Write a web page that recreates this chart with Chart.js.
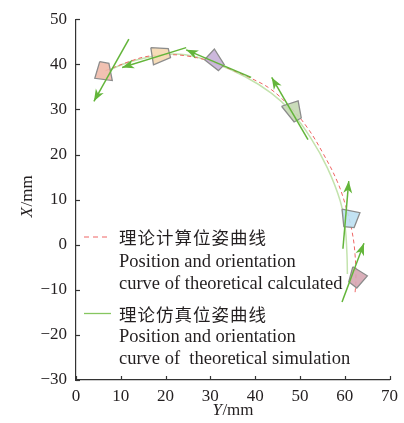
<!DOCTYPE html>
<html><head><meta charset="utf-8">
<script src="https://cdn.jsdelivr.net/npm/chart.js@4.4.0/dist/chart.umd.min.js"></script>
<style>html,body{margin:0;padding:0;background:#fff;}</style>
</head><body>
<canvas id="c" width="404" height="423"></canvas>
<script>
// ---- data (Y/mm horizontal, X/mm vertical) ----
const calcY = [6.6, 11.9, 15.6, 20.0, 24.4, 30.3, 34.7, 39.1, 43.6, 48.0, 51.7, 55.3, 58.3, 60.1, 61.6, 62.3, 62.5, 62.3];
const calcX = [38.6, 40.6, 41.7, 42.1, 41.9, 40.6, 38.8, 36.9, 34.4, 30.3, 25.9, 20.0, 14.1, 9.0, 3.1, -2.1, -8.0, -10.8];
const simY  = [7.5, 11.9, 19.3, 24.4, 30.3, 37.7, 43.6, 48.0, 52.4, 56.1, 59.0, 60.1, 60.5, 60.6];
const simX  = [38.8, 40.5, 42.1, 42.1, 40.5, 37.3, 33.6, 29.6, 23.7, 17.1, 9.7, 3.8, -2.1, -6.5];

// pose quadrilaterals: vertex Y values and X values
const pose1Y = [5.3, 7.35, 8.1, 4.2],    pose1X = [40.6, 40.2, 36.4, 36.9];
const pose2Y = [16.7, 20.6, 21.1, 17.3], pose2X = [43.7, 43.5, 41.5, 39.9];
const pose3Y = [28.7, 30.9, 33.1, 31.8], pose3X = [41.0, 43.4, 39.9, 38.6];
const pose4Y = [45.9, 49.6, 50.3, 48.7], pose4X = [30.7, 31.9, 28.1, 27.2];
const pose5Y = [59.4, 63.4, 62.1, 59.8], pose5X = [7.9, 7.1, 3.8, 4.0];
const pose6Y = [61.8, 65.05, 62.7, 60.9], pose6X = [-4.9, -6.9, -9.6, -8.2];

// orientation arrows: tail and head
const arrowTailY = [11.8, 24.6, 39.1, 51.8, 59.6, 59.4];
const arrowTailX = [45.6, 43.7, 37.1, 23.3, -0.9, -12.7];
const arrowHeadY = [4.0, 10.3, 24.6, 43.7, 60.9, 64.3];
const arrowHeadX = [31.8, 39.3, 43.2, 37.1, 14.1, 0.3];

// ticks and labels
const xTickValues = [0, 10, 20, 30, 40, 50, 60, 70];
const yTickValues = [-30, -20, -10, 0, 10, 20, 30, 40, 50];
const xAxisTitle = ['Y', '/mm'];
const yAxisTitle = ['X', '/mm'];
const legendCalcZh = '理论计算位姿曲线';
const legendCalcEn = ['Position and orientation', 'curve of theoretical calculated'];
const legendSimZh = '理论仿真位姿曲线';
const legendSimEn = ['Position and orientation', 'curve of  theoretical simulation'];

// ---- styles ----
const poseFills = ['rgba(239,186,170,0.9)', 'rgba(245,216,176,0.9)', 'rgba(198,176,216,0.9)',
                   'rgba(196,216,178,0.9)', 'rgba(188,224,242,0.9)', 'rgba(214,166,178,0.9)'];
const poseBorder = '#8c8c8c';
const arrowColor = '#63b53a';
const calcColor = '#ef6464';
const simColor = '#c3e3ad';
const textColor = '#231f20';
const serif = '"Liberation Serif", "DejaVu Serif", serif';

const zip = (ys, xs) => ys.map((v, i) => ({x: v, y: xs[i]}));
const closed = (ys, xs) => { const p = zip(ys, xs); p.push({...p[0]}); return p; };

const poses = [[pose1Y, pose1X], [pose2Y, pose2X], [pose3Y, pose3X], [pose4Y, pose4X], [pose5Y, pose5X], [pose6Y, pose6X]];

const datasets = [];
datasets.push({label: 'calc', data: zip(calcY, calcX), showLine: true, borderColor: calcColor, borderWidth: 1,
  borderDash: [4, 3], pointRadius: 0, tension: 0.4, fill: false, order: 3});
datasets.push({label: 'sim', data: zip(simY, simX), showLine: true, borderColor: simColor, borderWidth: 1.5,
  pointRadius: 0, tension: 0.4, fill: false, order: 4});
poses.forEach((p, i) => datasets.push({label: 'pose' + (i + 1), data: closed(p[0], p[1]), showLine: true,
  borderColor: poseBorder, borderWidth: 1.3, backgroundColor: poseFills[i], fill: 'shape', pointRadius: 0,
  tension: 0, order: 2}));
arrowTailY.forEach((v, i) => datasets.push({label: 'arrow' + (i + 1), isArrow: true,
  data: [{x: arrowTailY[i], y: arrowTailX[i]}, {x: arrowHeadY[i], y: arrowHeadX[i]}], showLine: true,
  borderColor: arrowColor, borderWidth: 1.5, pointRadius: 0, tension: 0, fill: false, order: 1}));

const fmt = v => String(v).replace('-', '\u2212');

const decor = {
  id: 'decor',
  afterDatasetsDraw(chart) {
    const ctx = chart.ctx;
    // arrowheads
    chart.data.datasets.forEach((ds, i) => {
      if (!ds.isArrow) return;
      const pts = chart.getDatasetMeta(i).data;
      const a = pts[0], b = pts[1];
      const ang = Math.atan2(b.y - a.y, b.x - a.x);
      const L = 12, W = 4.5;
      ctx.save();
      ctx.translate(b.x, b.y); ctx.rotate(ang);
      ctx.beginPath();
      ctx.moveTo(0, 0); ctx.lineTo(-L, -W); ctx.lineTo(-L * 0.72, 0); ctx.lineTo(-L, W); ctx.closePath();
      ctx.fillStyle = arrowColor; ctx.fill();
      ctx.restore();
    });
  },
  afterDraw(chart) {
    const ctx = chart.ctx, xs = chart.scales.x, ys = chart.scales.y, ca = chart.chartArea;
    ctx.save();
    ctx.strokeStyle = '#333'; ctx.lineWidth = 1.2;
    // inward ticks
    xTickValues.forEach(v => { const px = Math.round(xs.getPixelForValue(v)) + 0.5;
      ctx.beginPath(); ctx.moveTo(px, ca.bottom); ctx.lineTo(px, ca.bottom - 4); ctx.stroke(); });
    yTickValues.forEach(v => { const py = Math.round(ys.getPixelForValue(v)) + 0.5;
      ctx.beginPath(); ctx.moveTo(ca.left, py); ctx.lineTo(ca.left + 4, py); ctx.stroke(); });
    ctx.fillStyle = textColor;
    // axis titles (italic variable + upright unit)
    const drawTitle = (parts, cx, cy, rot) => {
      ctx.save(); ctx.translate(cx, cy); if (rot) ctx.rotate(rot);
      ctx.textBaseline = 'alphabetic'; ctx.textAlign = 'left';
      ctx.font = 'italic 17px ' + serif; const w1 = ctx.measureText(parts[0]).width;
      ctx.font = '17px ' + serif; const w2 = ctx.measureText(parts[1]).width;
      let x0 = -(w1 + w2) / 2;
      ctx.font = 'italic 17px ' + serif; ctx.fillText(parts[0], x0, 0);
      ctx.font = '17px ' + serif; ctx.fillText(parts[1], x0 + w1 + 0.5, 0);
      ctx.restore();
    };
    drawTitle(xAxisTitle, (ca.left + ca.right) / 2, 415, 0);
    drawTitle(yAxisTitle, 32, (ca.top + ca.bottom) / 2 - 3, -Math.PI / 2);
    // legend
    const lx = ca.left + 8, tx = ca.left + 43;
    ctx.lineWidth = 1;
    ctx.strokeStyle = calcColor; ctx.setLineDash([5, 4]);
    ctx.beginPath(); ctx.moveTo(lx, 237); ctx.lineTo(lx + 27, 237); ctx.stroke();
    ctx.setLineDash([]);
    ctx.strokeStyle = '#86c660'; ctx.lineWidth = 1.3;
    ctx.beginPath(); ctx.moveTo(lx, 313.5); ctx.lineTo(lx + 27, 313.5); ctx.stroke();
    ctx.textAlign = 'left';
    ctx.font = '17.5px "Noto Sans CJK SC"'; ctx.textBaseline = 'middle';
    ctx.letterSpacing = '1px';
    ctx.fillText(legendCalcZh, tx, 237.5);
    ctx.fillText(legendSimZh, tx, 314);
    ctx.letterSpacing = '0px';
    ctx.font = '18.5px ' + serif; ctx.textBaseline = 'alphabetic';
    ctx.fillText(legendCalcEn[0], tx, 266.5);
    ctx.fillText(legendCalcEn[1], tx, 288.5);
    ctx.fillText(legendSimEn[0], tx, 342);
    ctx.fillText(legendSimEn[1], tx, 363.5);
    ctx.restore();
  }
};

new Chart(document.getElementById('c'), {
  type: 'scatter',
  data: {datasets},
  options: {
    responsive: false, animation: false, devicePixelRatio: 1,
    layout: {padding: {top: 17, right: 11, left: 0, bottom: 0}},
    plugins: {legend: {display: false}, tooltip: {enabled: false}},
    elements: {line: {capBezierPoints: true}},
    scales: {
      x: {type: 'linear', min: 0, max: 70,
        afterBuildTicks: s => { s.ticks = xTickValues.map(v => ({value: v})); },
        afterFit: s => { s.height = 43; },
        grid: {display: true, drawOnChartArea: false, drawTicks: false},
        border: {display: true, color: '#333', width: 1.2},
        ticks: {padding: 6, color: textColor, font: {family: serif, size: 17}, callback: v => fmt(v), maxRotation: 0}},
      y: {type: 'linear', min: -30, max: 50,
        afterBuildTicks: s => { s.ticks = yTickValues.map(v => ({value: v})); },
        afterFit: s => { s.width = 76; },
        grid: {display: true, drawOnChartArea: false, drawTicks: false},
        border: {display: true, color: '#333', width: 1.2},
        ticks: {padding: 9, color: textColor, font: {family: serif, size: 17}, callback: v => fmt(v)}}
    }
  },
  plugins: [decor]
});
</script>
</body></html>
